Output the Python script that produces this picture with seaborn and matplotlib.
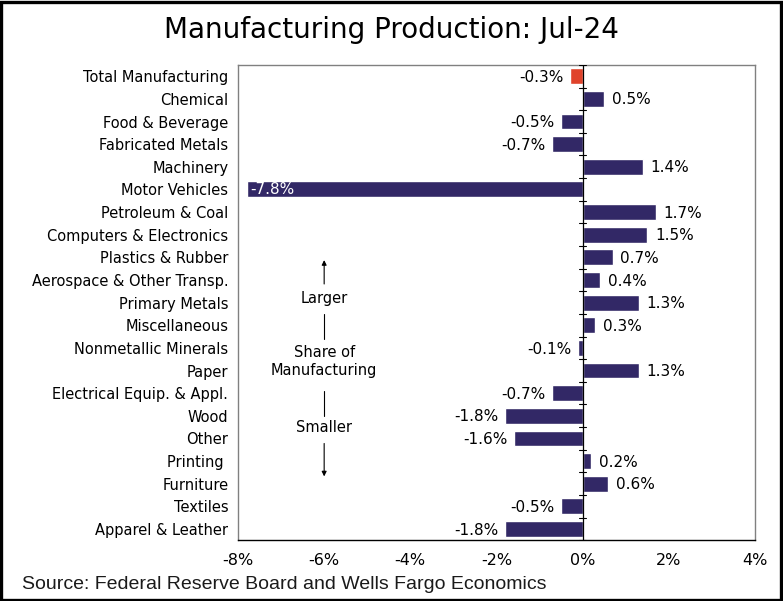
import matplotlib
matplotlib.use("Agg")
import matplotlib.pyplot as plt
import seaborn as sns
import pandas as pd
from matplotlib.patches import Rectangle

categories = ["Total Manufacturing", "Chemical", "Food & Beverage", "Fabricated Metals",
              "Machinery", "Motor Vehicles", "Petroleum & Coal", "Computers & Electronics",
              "Plastics & Rubber", "Aerospace & Other Transp.", "Primary Metals",
              "Miscellaneous", "Nonmetallic Minerals", "Paper", "Electrical Equip. & Appl.",
              "Wood", "Other", "Printing ", "Furniture", "Textiles", "Apparel & Leather"]
values = [-0.3, 0.5, -0.5, -0.7, 1.4, -7.8, 1.7, 1.5, 0.7, 0.4, 1.3, 0.3, -0.1, 1.3,
          -0.7, -1.8, -1.6, 0.2, 0.6, -0.5, -1.8]
labels = ["-0.3%", "0.5%", "-0.5%", "-0.7%", "1.4%", "-7.8%", "1.7%", "1.5%", "0.7%",
          "0.4%", "1.3%", "0.3%", "-0.1%", "1.3%", "-0.7%", "-1.8%", "-1.6%", "0.2%",
          "0.6%", "-0.5%", "-1.8%"]
xticks = [-8, -6, -4, -2, 0, 2, 4]
xticklabels = ["-8%", "-6%", "-4%", "-2%", "0%", "2%", "4%"]

NAVY = "#322866"
RED = "#e0432b"

df = pd.DataFrame({"cat": categories, "val": values})
palette = [RED] + [NAVY] * (len(categories) - 1)

sns.set_style("white")
plt.rcParams["font.family"] = ["DejaVu Sans"]
plt.rcParams["text.color"] = "black"
plt.rcParams["xtick.color"] = "black"
plt.rcParams["ytick.color"] = "black"
plt.rcParams["axes.labelcolor"] = "black"

fig = plt.figure(figsize=(7.83, 6.01), dpi=100)
ax = fig.add_axes([0.304, 0.101, 0.660, 0.791])

sns.barplot(data=df, x="val", y="cat", hue="cat", palette=palette, legend=False,
            order=categories, orient="h", width=0.7, ax=ax, saturation=1)

ax.set_xlim(-8, 4)
ax.set_ylim(len(categories) - 0.5, -0.5)
ax.set_xticks(xticks)
ax.set_xticklabels(xticklabels, fontsize=11.5)
ax.set_xlabel("")
ax.set_ylabel("")
ax.tick_params(axis="x", direction="in", length=10, width=0.8, color="black", pad=9)
ax.tick_params(axis="y", length=0, labelsize=10.5, pad=7)
for s in ["top", "right", "left"]:
    ax.spines[s].set_color("#808080")
    ax.spines[s].set_linewidth(1.0)
ax.spines["bottom"].set_color("black")
ax.spines["bottom"].set_linewidth(1.0)

# zero axis with small tick marks between categories
ax.axvline(0, color="black", lw=0.9, zorder=3)
for i in range(len(categories) + 1):
    yb = i - 0.5
    ax.plot([-0.08, 0.08], [yb, yb], color="black", lw=0.8, zorder=3)

for i, (v, lab) in enumerate(zip(values, labels)):
    if i == 5:
        ax.text(v + 0.08, i, lab, color="white", va="center", ha="left", fontsize=11)
    elif v >= 0:
        ax.text(v + 0.18, i + 0.05, lab, color="black", va="center", ha="left", fontsize=11)
    else:
        ax.text(v - 0.15, i + 0.05, lab, color="black", va="center", ha="right", fontsize=11)

# share-of-manufacturing annotation
xa = -6.0
ax.annotate("", xy=(xa, 8.0), xytext=(xa, 9.3),
            arrowprops=dict(arrowstyle="-|>", color="black", lw=0.8, mutation_scale=7))
ax.text(xa, 9.8, "Larger", ha="center", va="center", fontsize=10.5)
ax.plot([xa, xa], [10.5, 11.6], color="black", lw=0.8)
ax.text(xa, 12.2, "Share of", ha="center", va="center", fontsize=10.5)
ax.text(xa, 13.0, "Manufacturing", ha="center", va="center", fontsize=10.5)
ax.plot([xa, xa], [13.9, 15.0], color="black", lw=0.8)
ax.text(xa, 15.5, "Smaller", ha="center", va="center", fontsize=10.5)
ax.annotate("", xy=(xa, 17.8), xytext=(xa, 16.1),
            arrowprops=dict(arrowstyle="-|>", color="black", lw=0.8, mutation_scale=7))

fig.text(0.5, 0.950, "Manufacturing Production: Jul-24", ha="center", va="center",
         fontsize=20)
fig.text(0.028, 0.027, "Source: Federal Reserve Board and Wells Fargo Economics",
         ha="left", va="center", fontsize=14, family=["Liberation Sans"], color="#1a1a1a")

# figure border
fig.patches.append(Rectangle((0.0015, 0.002), 0.996, 0.995, transform=fig.transFigure,
                             fill=False, edgecolor="black", lw=2.4, zorder=10))

fig.savefig("out.png", dpi=100)
